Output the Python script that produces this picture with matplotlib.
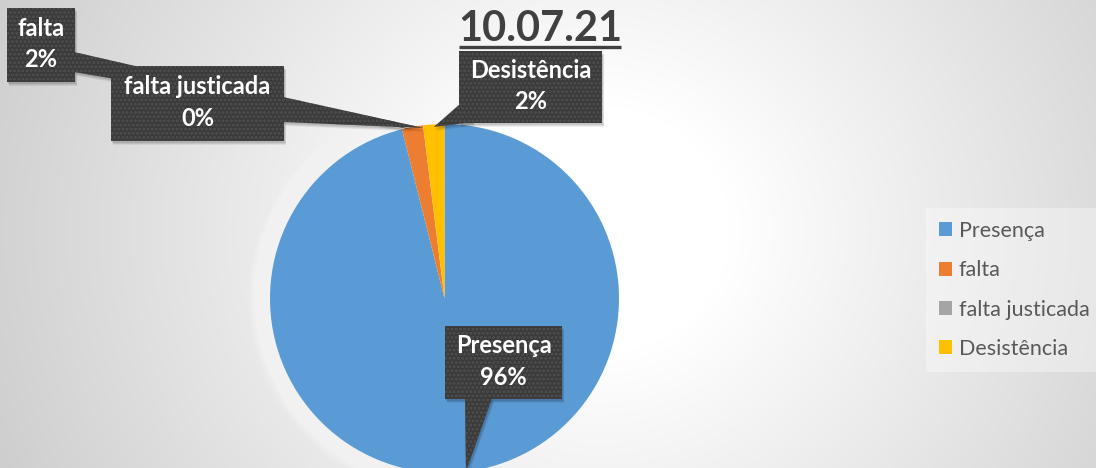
import numpy as np
import matplotlib
matplotlib.use("Agg")
import matplotlib.pyplot as plt
from matplotlib.patches import Polygon, Circle, Patch

# attendance for the day
categorias = ["Presença", "falta", "falta justicada", "Desistência"]
valores = [49, 1, 0, 1]
cores = ["#5b9bd5", "#ed7d31", "#a5a5a5", "#ffc000"]
titulo = "10.07.21"

W, H = 1096, 468
plt.rcParams['font.family'] = ['Lato', 'DejaVu Sans']
plt.rcParams['hatch.linewidth'] = 1.4

fig = plt.figure(figsize=(W / 100, H / 100), dpi=100)
ax = fig.add_axes([0, 0, 1, 1])


def py(y):
    # pixel row (from top) -> data y
    return H - y


# radial background, white around the chart, grey towards the corners
xx, yy = np.meshgrid(np.arange(W) + 0.5, np.arange(H) + 0.5)
d = np.hypot((xx - 600) / 1.0, (yy - 230) / 0.95)
t = np.clip((d - 130) / 540, 0, 1)
g = 1 - 0.2 * t
bg = np.dstack([g, g, g])
ax.imshow(bg, extent=(0, W, 0, H), origin="upper", zorder=0, interpolation="bilinear")

cx, cy, R = 444.5, py(298.5), 174.5

# soft white glow round the pie
for k in range(22, 0, -1):
    ax.add_patch(Circle((cx, cy), R + k, facecolor="white", alpha=0.07,
                        edgecolor="none", zorder=1))

wedges, _ = ax.pie(valores, colors=cores, startangle=90, counterclock=False,
                   center=(cx, cy), radius=R,
                   wedgeprops=dict(linewidth=0, zorder=2))
for w in wedges:
    w.set_zorder(2)

total = float(sum(valores))
fracs = np.array(valores) / total
ends = np.cumsum(fracs) * 360
mids = ends - fracs * 180
tips = [(cx + R * 0.985 * np.sin(np.radians(a)), cy + R * 0.985 * np.cos(np.radians(a)))
        for a in mids]
tips[0] = (cx + R * np.sin(np.radians(mids[0])), cy + R * np.cos(np.radians(mids[0])))

# callout boxes (left, top, right, bottom in pixels) and pointer base points
caixas = {
    1: ((7, 8, 75, 82), [(74, 52), (74, 72)]),
    2: ((111, 66, 284, 141), [(283, 97), (283, 122)]),
    3: ((459, 51, 602, 123), [(460, 104), (473, 122)]),
    0: ((445, 326, 562, 399), [(465, 398), (492, 398)]),
}


def callout(i, zo):
    (x0, y0, x1, y1), base = caixas[i]
    tip = tips[i]
    box = [(x0, py(y0)), (x1, py(y0)), (x1, py(y1)), (x0, py(y1))]
    ptr = [(base[0][0], py(base[0][1])), tip, (base[1][0], py(base[1][1]))]
    for off, a in [(4, 0.06), (3, 0.08), (2, 0.1)]:
        for shp in (box, ptr):
            pts = [(px + off * 0.6, pyy - off) for px, pyy in shp]
            ax.add_patch(Polygon(pts, closed=True, facecolor="black", alpha=a,
                                 edgecolor="none", zorder=zo))
    for shp in (ptr, box):
        ax.add_patch(Polygon(shp, closed=True, facecolor="#3a3a3a", edgecolor="#505050",
                             hatch="....", linewidth=0, zorder=zo + 0.1))
    pct = round(fracs[i] * 100)
    ax.text((x0 + x1) / 2, py((y0 + y1) / 2 - 1), "%s\n%d%%" % (categorias[i], pct),
            ha="center", va="center", color="white", fontsize=17, fontweight="bold",
            linespacing=1.45, zorder=zo + 0.2)


callout(1, 5)
callout(2, 6)
callout(3, 7)
callout(0, 8)

ttl = ax.text(540, py(29), titulo, ha="center", va="center", fontsize=30,
              fontweight="bold", color="#404040", zorder=9)

handles = [Patch(facecolor=c, edgecolor="none") for c in cores]
leg = ax.legend(handles, categorias, loc="upper left",
                bbox_to_anchor=(926 / W, 1 - 208 / H), frameon=True, fancybox=False,
                fontsize=15.5, handlelength=0.62, handleheight=0.62, handletextpad=0.3,
                labelspacing=0.9, borderpad=0.6, borderaxespad=0)
leg.get_frame().set_facecolor("white")
leg.get_frame().set_alpha(0.35)
leg.get_frame().set_edgecolor("none")
for txt in leg.get_texts():
    txt.set_color("#595959")

ax.set_xlim(0, W)
ax.set_ylim(0, H)
ax.set_aspect("auto")
ax.axis("off")

# underline the title
fig.canvas.draw()
bb = ttl.get_window_extent()
ax.plot([bb.x0 + 1, bb.x1 - 1], [py(47), py(47)], color="#404040", lw=2.4,
        solid_capstyle="butt", zorder=9)

fig.savefig("out.png", dpi=100)
